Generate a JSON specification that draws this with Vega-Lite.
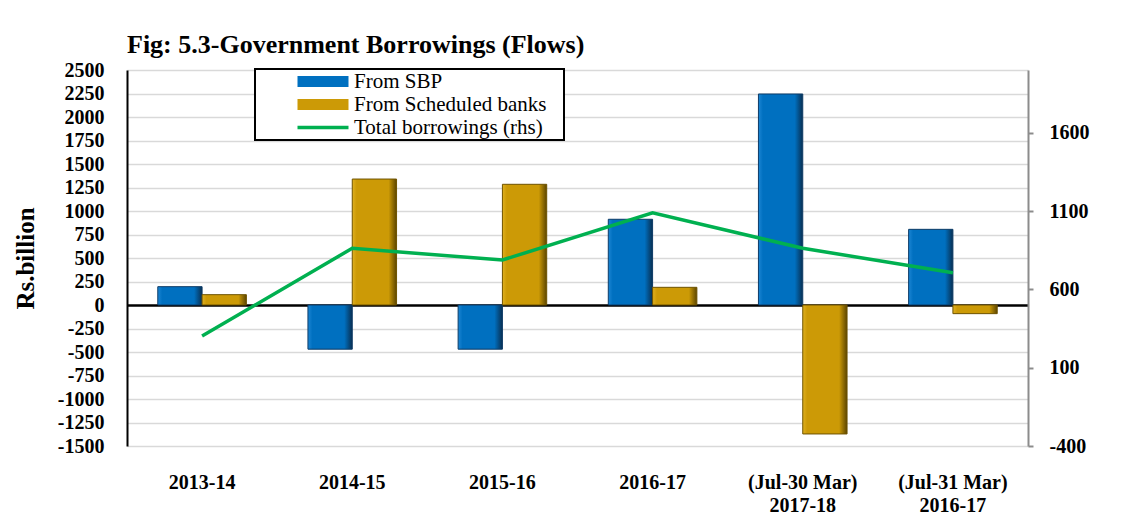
{
  "$schema": "https://vega.github.io/schema/vega-lite/v6.json",
  "width": 901,
  "height": 376,
  "autosize": {"type": "none"},
  "padding": {"left": 127, "top": 70, "right": 94, "bottom": 84},
  "background": "white",
  "title": {
    "text": "Fig: 5.3-Government Borrowings (Flows)",
    "anchor": "start",
    "frame": "group",
    "font": "Liberation Serif",
    "fontSize": 26,
    "fontWeight": "bold",
    "color": "black",
    "offset": 2
  },
  "config": {"view": {"stroke": null}, "font": "Liberation Serif"},
  "datasets": {
    "bars": [
      {"period": "2013-14", "series": "From SBP", "value": 195},
      {"period": "2013-14", "series": "From Scheduled banks", "value": 110},
      {"period": "2014-15", "series": "From SBP", "value": -470},
      {"period": "2014-15", "series": "From Scheduled banks", "value": 1340},
      {"period": "2015-16", "series": "From SBP", "value": -470},
      {"period": "2015-16", "series": "From Scheduled banks", "value": 1284},
      {"period": "2016-17", "series": "From SBP", "value": 912},
      {"period": "2016-17", "series": "From Scheduled banks", "value": 188},
      {"period": "(Jul-30 Mar)|2017-18", "series": "From SBP", "value": 2245},
      {"period": "(Jul-30 Mar)|2017-18", "series": "From Scheduled banks", "value": -1372},
      {"period": "(Jul-31 Mar)|2016-17", "series": "From SBP", "value": 805},
      {"period": "(Jul-31 Mar)|2016-17", "series": "From Scheduled banks", "value": -92}
    ],
    "total": [
      {"period": "2013-14", "total": 302},
      {"period": "2014-15", "total": 862},
      {"period": "2015-16", "total": 787},
      {"period": "2016-17", "total": 1089},
      {"period": "(Jul-30 Mar)|2017-18", "total": 862},
      {"period": "(Jul-31 Mar)|2016-17", "total": 706}
    ]
  },
  "layer": [
    {
      "data": {"name": "bars"},
      "mark": {"type": "bar", "strokeWidth": 1},
      "encoding": {
        "x": {
          "field": "period",
          "type": "nominal",
          "sort": ["2013-14", "2014-15", "2015-16", "2016-17", "(Jul-30 Mar)|2017-18", "(Jul-31 Mar)|2016-17"],
          "scale": {"paddingInner": 0.41, "paddingOuter": 0.205},
          "axis": {
            "title": null,
            "labelExpr": "split(datum.label, '|')",
            "labelFont": "Liberation Serif",
            "labelFontSize": 20,
            "labelFontWeight": "bold",
            "labelColor": "black",
            "labelPadding": 26,
            "labelLineHeight": 23,
            "labelAngle": 0,
            "domain": false,
            "ticks": false,
            "tickSize": 0
          }
        },
        "xOffset": {"field": "series", "type": "nominal", "sort": ["From SBP", "From Scheduled banks"]},
        "y": {
          "field": "value",
          "type": "quantitative",
          "scale": {"domain": [-1500, 2500], "nice": false, "zero": false},
          "axis": {
            "title": "Rs.billion",
            "titleFont": "Liberation Serif",
            "titleFontSize": 25,
            "titleFontWeight": "bold",
            "titleColor": "black",
            "titlePadding": 19,
            "values": [-1500, -1250, -1000, -750, -500, -250, 0, 250, 500, 750, 1000, 1250, 1500, 1750, 2000, 2250, 2500],
            "labelExpr": "'' + datum.value",
            "labelFont": "Liberation Serif",
            "labelFontSize": 20,
            "labelFontWeight": "bold",
            "labelColor": "black",
            "labelPadding": 23,
            "labelOverlap": false,
            "labelFlush": false,
            "ticks": false,
            "tickSize": 0,
            "domainColor": "black",
            "domainWidth": 2,
            "gridColor": {"condition": {"test": "datum.value === 0", "value": "black"}, "value": "#d9d9d9"},
            "gridWidth": {"condition": {"test": "datum.value === 0", "value": 2.5}, "value": 1.5}
          }
        },
        "fill": {
          "condition": {
            "test": "datum.series === 'From SBP'",
            "value": {"gradient": "linear", "x1": 0, "x2": 1, "y1": 0, "y2": 0, "stops": [
              {"offset": 0, "color": "#1c86d4"},
              {"offset": 0.1, "color": "#0070C0"},
              {"offset": 0.82, "color": "#0070C0"},
              {"offset": 1, "color": "#082f52"}
            ]}
          },
          "value": {"gradient": "linear", "x1": 0, "x2": 1, "y1": 0, "y2": 0, "stops": [
            {"offset": 0, "color": "#e0b020"},
            {"offset": 0.1, "color": "#CC9A06"},
            {"offset": 0.82, "color": "#CC9A06"},
            {"offset": 1, "color": "#5c4500"}
          ]}
        },
        "stroke": {
          "condition": {"test": "datum.series === 'From SBP'", "value": "#0d3b66"},
          "value": "#6e5300"
        }
      }
    },
    {
      "data": {"name": "total"},
      "mark": {"type": "line", "strokeWidth": 3.5},
      "encoding": {
        "x": {
          "field": "period",
          "type": "nominal",
          "sort": ["2013-14", "2014-15", "2015-16", "2016-17", "(Jul-30 Mar)|2017-18", "(Jul-31 Mar)|2016-17"]
        },
        "y": {
          "field": "total",
          "type": "quantitative",
          "scale": {"domain": [-400, 2000], "nice": false, "zero": false},
          "axis": {
            "orient": "right",
            "title": null,
            "values": [-400, 100, 600, 1100, 1600],
            "labelExpr": "'' + datum.value",
            "labelFont": "Liberation Serif",
            "labelFontSize": 20,
            "labelFontWeight": "bold",
            "labelColor": "black",
            "labelPadding": 16,
            "labelOverlap": false,
            "labelFlush": false,
            "tickSize": 5,
            "tickColor": "#8c8c8c",
            "tickWidth": 2,
            "domainColor": "#8c8c8c",
            "domainWidth": 2,
            "grid": false
          }
        },
        "color": {
          "datum": "Total borrowings (rhs)",
          "scale": {
            "domain": ["From SBP", "From Scheduled banks", "Total borrowings (rhs)"],
            "range": ["#0070C0", "#CC9A06", "#00B050"]
          },
          "legend": {
            "orient": "none",
            "legendX": 128,
            "legendY": -1,
            "title": null,
            "strokeColor": "black",
            "fillColor": "white",
            "padding": 2,
            "rowPadding": 1,
            "labelFont": "Liberation Serif",
            "labelFontSize": 21,
            "labelColor": "black",
            "labelLimit": 500,
            "symbolSize": 324,
            "symbolOffset": 55.5,
            "labelOffset": 20.5,
            "labelExpr": "datum.label + '\u2800'",
            "encode": {
              "legend": {"update": {"strokeWidth": {"value": 2}}},
              "symbols": {
                "update": {
                  "shape": {"signal": "datum.value === 'Total borrowings (rhs)' ? 'M-2.833,-0.2H2.833V0.2H-2.833Z' : 'M-2.833,-0.611H2.833V0.611H-2.833Z'"},
                  "size": {"value": 324},
                  "fill": {"signal": "scale('color', datum.value)"},
                  "stroke": {"value": "transparent"},
                  "strokeWidth": {"value": 0},
                  "opacity": {"value": 1}
                }
              }
            }
          }
        }
      }
    }
  ],
  "resolve": {"scale": {"y": "independent"}}
}
